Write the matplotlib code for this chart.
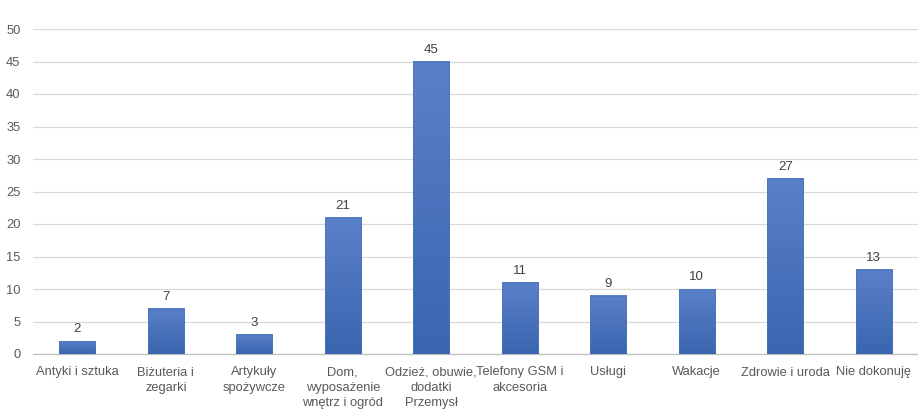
import numpy as np
import matplotlib.pyplot as plt
from matplotlib.colors import LinearSegmentedColormap

plt.rcParams['font.family'] = ['Liberation Sans', 'DejaVu Sans']

categories = ["Antyki i sztuka", "Biżuteria i\nzegarki", "Artykuły\nspożywcze",
              "Dom,\nwyposażenie\nwnętrz i ogród", "Odzież, obuwie,\ndodatki\nPrzemysł",
              "Telefony GSM i\nakcesoria", "Usługi", "Wakacje", "Zdrowie i uroda",
              "Nie dokonuję"]
values = [2, 7, 3, 21, 45, 11, 9, 10, 27, 13]
yticks = list(range(0, 55, 5))

txt = '#595959'
fig = plt.figure(figsize=(9.18, 4.09), dpi=100)
ax = fig.add_axes([33/918, 1-354/409, 1-33/918, (354-29)/409])

x = range(len(values))
bars = ax.bar(x, values, width=0.41, color='none', edgecolor='#4a74bf', linewidth=0.5, zorder=4)
# vertical gradient fill, lighter at the top like the original
grad = LinearSegmentedColormap.from_list('g', ['#3a65b0', '#5a80c8'])
for b in bars:
    x0, w, h = b.get_x(), b.get_width(), b.get_height()
    g = np.linspace(0, 1, 100).reshape(-1, 1)
    ax.imshow(g, cmap=grad, origin='lower', aspect='auto',
              extent=(x0, x0 + w, 0, h), zorder=3)
for xi, v in zip(x, values):
    ax.text(xi, v + 0.9, str(v), ha='center', va='bottom', fontsize=9.5, color='#404040')

ax.set_xlim(-0.5, len(values) - 0.5)
ax.set_ylim(0, 50)
ax.set_yticks(yticks)
ax.set_xticks(list(x))
ax.set_xticklabels(categories, fontsize=9.3, color=txt, linespacing=1.35)
ax.tick_params(axis='y', labelsize=9.3, colors=txt, length=0, pad=9)
ax.tick_params(axis='x', length=0, pad=9)
ax.grid(axis='y', color='#d9d9d9', linewidth=0.9, zorder=0)
for s in ['top', 'right', 'left']:
    ax.spines[s].set_visible(False)
ax.spines['bottom'].set_color('#bfbfbf')
ax.spines['bottom'].set_linewidth(0.9)

fig.savefig('out.png', dpi=100)
